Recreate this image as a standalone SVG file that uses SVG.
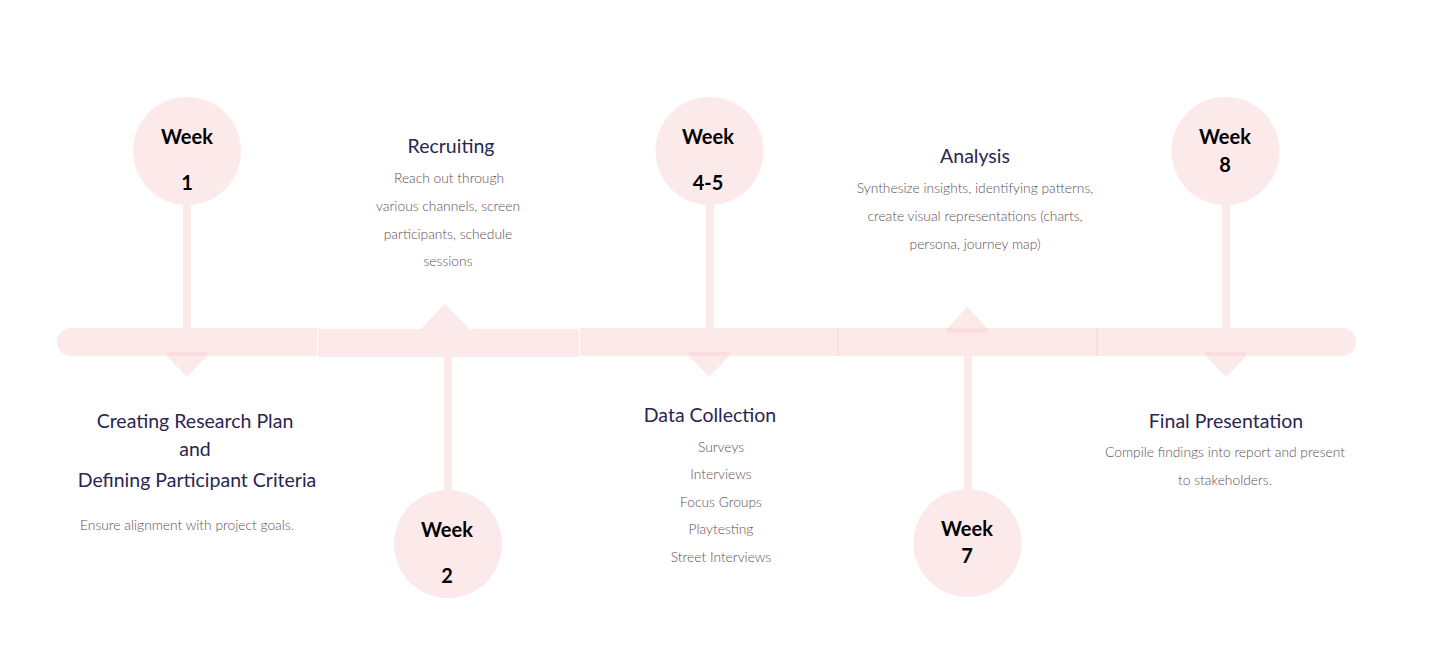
<svg xmlns="http://www.w3.org/2000/svg" width="1431" height="651" viewBox="0 0 1431 651">
<style>
.bar{fill:#fce9e9}
.ov{fill:#f7d3d2;opacity:0.55}
.circ{fill:#fce9e9}
.stem{fill:#fce9e9}
.wk{font-family:"Lato","Liberation Sans",sans-serif;font-weight:700;font-size:20px;fill:#000;text-anchor:middle}
.ttl{font-family:"Lato","Liberation Sans",sans-serif;font-weight:400;font-size:19.5px;fill:#2b2552;text-anchor:middle}
.bd{font-family:"Lato","Liberation Sans",sans-serif;font-weight:300;font-size:13.8px;fill:#5f4e53;text-anchor:middle}
</style>
<rect width="1431" height="651" fill="#ffffff"/>
<g id="connectors">
  <path class="bar" d="M71,328 H317 V356 H71 A14,14 0 0 1 71,328 Z"/>
  <rect class="bar" x="318" y="329" width="261" height="28"/>
  <rect class="bar" x="580" y="328" width="258" height="28"/>
  <rect class="bar" x="838" y="328" width="259" height="28"/>
  <path class="bar" d="M1097,328 H1342 A14,14 0 0 1 1342,356 H1097 Z"/>
  <rect class="ov" x="837" y="328" width="2" height="28"/>
  <rect class="ov" x="1096" y="328" width="2" height="28"/>
  <rect class="stem" x="183" y="203" width="8" height="125"/>
  <rect class="stem" x="444" y="357" width="8" height="134"/>
  <rect class="stem" x="706" y="203" width="8" height="125"/>
  <rect class="stem" x="964" y="356" width="8" height="135"/>
  <rect class="stem" x="1222" y="203" width="8" height="125"/>
  <polygon class="bar" points="163,352 211,352 187,377"/>
  <rect class="ov" x="167" y="352" width="40" height="4"/>
  <polygon class="bar" points="421,329 469,329 445,304"/>
  <polygon class="bar" points="685,352 733,352 709,377"/>
  <rect class="ov" x="689" y="352" width="40" height="4"/>
  <polygon class="bar" points="943,333 992,333 967,307"/>
  <rect class="ov" x="947" y="328" width="41" height="5"/>
  <polygon class="bar" points="1202,352 1250,352 1226,377"/>
  <rect class="ov" x="1206" y="352" width="40" height="4"/>
</g>
<g id="week1">
  <circle class="circ" cx="187" cy="151" r="54"/>
  <text class="wk" x="187" y="144">Week</text>
  <text class="wk" x="187" y="190">1</text>
</g>
<g id="week2">
  <circle class="circ" cx="448" cy="544" r="54"/>
  <text class="wk" x="447" y="537">Week</text>
  <text class="wk" x="447" y="583">2</text>
</g>
<g id="week45">
  <circle class="circ" cx="709.5" cy="151" r="54"/>
  <text class="wk" x="708" y="144">Week</text>
  <text class="wk" x="708" y="190">4-5</text>
</g>
<g id="week7">
  <circle class="circ" cx="967.5" cy="543" r="54"/>
  <text class="wk" x="967" y="536">Week</text>
  <text class="wk" x="967" y="563">7</text>
</g>
<g id="week8">
  <circle class="circ" cx="1225.5" cy="151" r="54"/>
  <text class="wk" x="1225" y="144">Week</text>
  <text class="wk" x="1225" y="172">8</text>
</g>
<g id="plan">
  <text class="ttl" x="195" y="428">Creating Research Plan</text>
  <text class="ttl" x="195" y="456">and</text>
  <text class="ttl" x="197" y="487">Defining Participant Criteria</text>
  <text class="bd" x="187" y="530">Ensure alignment with project goals.</text>
</g>
<g id="recruiting">
  <text class="ttl" x="451" y="153">Recruiting</text>
  <text class="bd" x="449" y="183">Reach out through</text>
  <text class="bd" x="448" y="211">various channels, screen</text>
  <text class="bd" x="448" y="239">participants, schedule</text>
  <text class="bd" x="448" y="266">sessions</text>
</g>
<g id="datacollection">
  <text class="ttl" x="710" y="422">Data Collection</text>
  <text class="bd" x="721" y="452">Surveys</text>
  <text class="bd" x="721" y="479">Interviews</text>
  <text class="bd" x="721" y="507">Focus Groups</text>
  <text class="bd" x="721" y="534">Playtesting</text>
  <text class="bd" x="721" y="562">Street Interviews</text>
</g>
<g id="analysis">
  <text class="ttl" x="975" y="163">Analysis</text>
  <text class="bd" x="975" y="193">Synthesize insights, identifying patterns,</text>
  <text class="bd" x="975" y="221">create visual representations (charts,</text>
  <text class="bd" x="975" y="249">persona, journey map)</text>
</g>
<g id="final">
  <text class="ttl" x="1226" y="428">Final Presentation</text>
  <text class="bd" x="1225" y="457">Compile findings into report and present</text>
  <text class="bd" x="1225" y="485">to stakeholders.</text>
</g>
</svg>
